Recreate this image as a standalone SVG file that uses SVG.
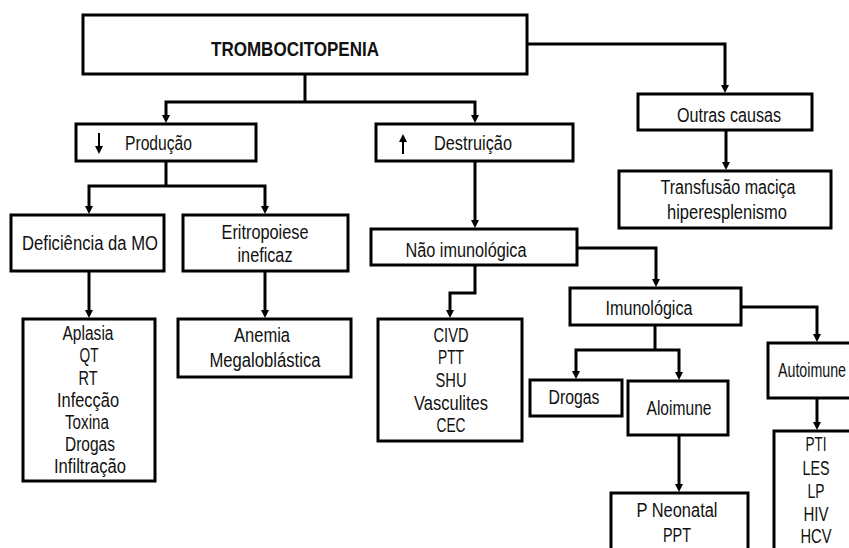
<svg xmlns="http://www.w3.org/2000/svg" width="849" height="548" viewBox="0 0 849 548">
<style>
.box{fill:#fff;stroke:#000;stroke-width:3}
.c{fill:none;stroke:#000;stroke-width:3}
text{font-family:"Liberation Sans",Arial,sans-serif;font-size:20px;fill:#111;text-anchor:middle}
.b{font-weight:bold;font-size:21px}
.s{text-anchor:start}
</style>
<defs>
<marker id="ah" viewBox="0 0 8 8" refX="0" refY="4" markerWidth="8" markerHeight="8" markerUnits="userSpaceOnUse" orient="auto">
<path d="M0,0 L8,4 L0,8 z" fill="#000"/>
</marker>
</defs>
<rect width="849" height="548" fill="#fff"/>
<g id="connectors">
<path class="c" d="M305,74 V102"/>
<path class="c" d="M305,102 H166 V115" marker-end="url(#ah)"/>
<path class="c" d="M305,102 H475 V115" marker-end="url(#ah)"/>
<path class="c" d="M527,44 H725 V85" marker-end="url(#ah)"/>
<path class="c" d="M726,130 V162" marker-end="url(#ah)"/>
<path class="c" d="M166,161 V186"/>
<path class="c" d="M166,186 H89 V206" marker-end="url(#ah)"/>
<path class="c" d="M166,186 H265 V206" marker-end="url(#ah)"/>
<path class="c" d="M89,271 V310" marker-end="url(#ah)"/>
<path class="c" d="M265,271 V310" marker-end="url(#ah)"/>
<path class="c" d="M475,161 V220" marker-end="url(#ah)"/>
<path class="c" d="M577,248 H656 V279" marker-end="url(#ah)"/>
<path class="c" d="M475,265 V293 H450 V310" marker-end="url(#ah)"/>
<path class="c" d="M655,325 V350"/>
<path class="c" d="M655,350 H576 V371" marker-end="url(#ah)"/>
<path class="c" d="M655,350 H679 V372" marker-end="url(#ah)"/>
<path class="c" d="M679,435 V484" marker-end="url(#ah)"/>
<path class="c" d="M741,307 H817 V334" marker-end="url(#ah)"/>
<path class="c" d="M817,398 V422" marker-end="url(#ah)"/>
</g>
<g id="trombocitopenia">
<rect class="box" x="83" y="15" width="444" height="59"/>
<text class="b" x="295" y="56" textLength="168" lengthAdjust="spacingAndGlyphs">TROMBOCITOPENIA</text>
</g>
<g id="outras">
<rect class="box" x="638" y="94" width="174" height="36"/>
<text x="729" y="122" textLength="104" lengthAdjust="spacingAndGlyphs">Outras causas</text>
</g>
<g id="transfusao">
<rect class="box" x="619" y="171" width="212" height="57"/>
<text x="728" y="194" textLength="135" lengthAdjust="spacingAndGlyphs">Transfusão maciça</text>
<text x="727" y="219" textLength="120" lengthAdjust="spacingAndGlyphs">hiperesplenismo</text>
</g>
<g id="producao">
<rect class="box" x="76" y="124" width="180" height="37"/>
<path d="M99,133 V147" stroke="#000" stroke-width="2"/>
<path d="M95,146 L103,146 L99,154 z" fill="#000"/>
<text class="s" x="125" y="150" textLength="67" lengthAdjust="spacingAndGlyphs">Produção</text>
</g>
<g id="destruicao">
<rect class="box" x="376" y="124" width="197" height="37"/>
<path d="M403,141 V154" stroke="#000" stroke-width="2"/>
<path d="M399,142 L407,142 L403,134 z" fill="#000"/>
<text class="s" x="434" y="150" textLength="78" lengthAdjust="spacingAndGlyphs">Destruição</text>
</g>
<g id="deficiencia">
<rect class="box" x="11" y="215" width="153" height="56"/>
<text x="90" y="250" textLength="136" lengthAdjust="spacingAndGlyphs">Deficiência da MO</text>
</g>
<g id="eritropoiese">
<rect class="box" x="183" y="215" width="165" height="56"/>
<text x="265" y="239" textLength="87" lengthAdjust="spacingAndGlyphs">Eritropoiese</text>
<text x="265" y="262" textLength="55" lengthAdjust="spacingAndGlyphs">ineficaz</text>
</g>
<g id="aplasia">
<rect class="box" x="23" y="319" width="132" height="162"/>
<text x="88" y="340" textLength="51" lengthAdjust="spacingAndGlyphs">Aplasia</text>
<text x="89" y="362" textLength="19" lengthAdjust="spacingAndGlyphs">QT</text>
<text x="88" y="385" textLength="19" lengthAdjust="spacingAndGlyphs">RT</text>
<text x="88" y="407" textLength="62" lengthAdjust="spacingAndGlyphs">Infecção</text>
<text x="87" y="429" textLength="44" lengthAdjust="spacingAndGlyphs">Toxina</text>
<text x="90" y="451" textLength="50" lengthAdjust="spacingAndGlyphs">Drogas</text>
<text x="90" y="473" textLength="72" lengthAdjust="spacingAndGlyphs">Infiltração</text>
</g>
<g id="anemia">
<rect class="box" x="178" y="319" width="173" height="58"/>
<text x="262" y="342" textLength="56" lengthAdjust="spacingAndGlyphs">Anemia</text>
<text x="265" y="367" textLength="111" lengthAdjust="spacingAndGlyphs">Megaloblástica</text>
</g>
<g id="nao-imunologica">
<rect class="box" x="371" y="229" width="206" height="36"/>
<text x="466" y="257" textLength="121" lengthAdjust="spacingAndGlyphs">Não imunológica</text>
</g>
<g id="civd">
<rect class="box" x="378" y="319" width="144" height="122"/>
<text x="451" y="342" textLength="35" lengthAdjust="spacingAndGlyphs">CIVD</text>
<text x="451" y="364" textLength="26" lengthAdjust="spacingAndGlyphs">PTT</text>
<text x="451" y="387" textLength="31" lengthAdjust="spacingAndGlyphs">SHU</text>
<text x="451" y="410" textLength="74" lengthAdjust="spacingAndGlyphs">Vasculites</text>
<text x="451" y="432" textLength="29" lengthAdjust="spacingAndGlyphs">CEC</text>
</g>
<g id="imunologica">
<rect class="box" x="570" y="288" width="171" height="37"/>
<text x="649" y="315" textLength="87" lengthAdjust="spacingAndGlyphs">Imunológica</text>
</g>
<g id="drogas">
<rect class="box" x="530" y="380" width="92" height="36"/>
<text x="574" y="404" textLength="51" lengthAdjust="spacingAndGlyphs">Drogas</text>
</g>
<g id="aloimune">
<rect class="box" x="628" y="381" width="100" height="54"/>
<text x="679" y="415" textLength="65" lengthAdjust="spacingAndGlyphs">Aloimune</text>
</g>
<g id="neonatal">
<rect class="box" x="611" y="493" width="137" height="70"/>
<text x="677" y="517" textLength="81" lengthAdjust="spacingAndGlyphs">P Neonatal</text>
<text x="677" y="542" textLength="28" lengthAdjust="spacingAndGlyphs">PPT</text>
</g>
<g id="autoimune">
<rect class="box" x="768" y="343" width="100" height="55"/>
<text class="s" x="778" y="377" textLength="68" lengthAdjust="spacingAndGlyphs">Autoimune</text>
</g>
<g id="pti">
<rect class="box" x="774" y="431" width="90" height="130"/>
<text x="816" y="451" textLength="21" lengthAdjust="spacingAndGlyphs">PTI</text>
<text x="816" y="475" textLength="27" lengthAdjust="spacingAndGlyphs">LES</text>
<text x="816" y="498" textLength="17" lengthAdjust="spacingAndGlyphs">LP</text>
<text x="816" y="521" textLength="25" lengthAdjust="spacingAndGlyphs">HIV</text>
<text x="816" y="543" textLength="31" lengthAdjust="spacingAndGlyphs">HCV</text>
</g>
</svg>
